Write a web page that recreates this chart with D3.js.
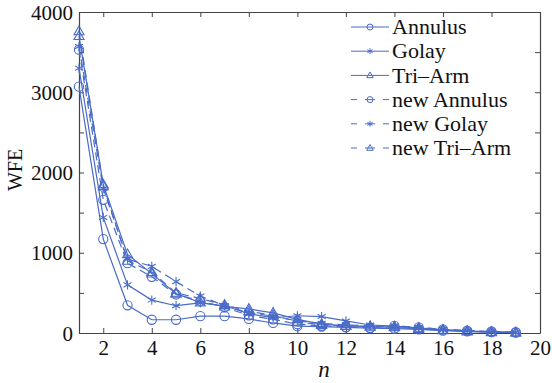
<!DOCTYPE html>
<html>
<head>
<meta charset="utf-8">
<script src="https://cdn.jsdelivr.net/npm/d3@7"></script>
<style>
  body { margin: 0; background: #fff; }
  svg text { font-family: "Liberation Serif", "Times New Roman", serif; fill: #111; }
</style>
</head>
<body>
<svg id="chart" width="552" height="383"></svg>
<script>
// n = 1..19
var nValues = d3.range(1, 20);
var annulus    = [3070, 1170, 345, 165, 165, 210, 210, 175, 125, 85, 80, 70, 60, 55, 45, 30, 20, 10, 5];
var golay      = [3300, 1440, 600, 410, 340, 375, 340, 240, 190, 215, 205, 150, 100, 85, 60, 40, 25, 15, 5];
var triArm     = [3700, 1850, 980, 740, 490, 380, 330, 300, 250, 170, 110, 90, 80, 70, 50, 35, 20, 10, 5];
var newAnnulus = [3530, 1660, 870, 700, 480, 400, 320, 220, 170, 110, 90, 75, 65, 90, 70, 45, 30, 20, 10];
var newGolay   = [3570, 1800, 920, 830, 640, 460, 340, 250, 210, 150, 120, 100, 90, 90, 70, 45, 30, 15, 5];
var newTriArm  = [3760, 1830, 900, 760, 500, 430, 350, 270, 220, 140, 100, 90, 80, 80, 65, 40, 25, 15, 5];
var xTicks = [2, 4, 6, 8, 10, 12, 14, 16, 18, 20];
var yTicks = [0, 1000, 2000, 3000, 4000];

var series = [
    {name: 'Annulus', values: annulus, marker: 'circle', dashed: false},
    {name: 'Golay', values: golay, marker: 'star', dashed: false},
    {name: 'Tri\u2013Arm', values: triArm, marker: 'triangle', dashed: false},
    {name: 'new Annulus', values: newAnnulus, marker: 'circle', dashed: true},
    {name: 'new Golay', values: newGolay, marker: 'star', dashed: true},
    {name: 'new Tri\u2013Arm', values: newTriArm, marker: 'triangle', dashed: true}
];

var blue = '#4a6bc8';
var frame = '#444';
var plotLeft = 79, plotRight = 540, plotTop = 12, plotBottom = 333;
var serif = '"Liberation Serif", "Times New Roman", serif';

var svg = d3.select('#chart');
var x = d3.scaleLinear().domain([1, 20]).range([plotLeft, plotRight]);
var y = d3.scaleLinear().domain([0, 4000]).range([plotBottom, plotTop]);

function markerPath(type, size) {
    if (type === 'circle') {
        return d3.symbol().type(d3.symbolCircle).size(size * size * Math.PI)();
    }
    if (type === 'triangle') {
        var s = size * 1.15;
        return 'M0,' + (-s) + 'L' + (s * 0.95) + ',' + (s * 0.65) + 'L' + (-s * 0.95) + ',' + (s * 0.65) + 'Z';
    }
    // star made of 3 crossing strokes
    var p = [], i;
    for (i = 0; i < 3; i++) {
        var a = Math.PI / 3 * i + Math.PI / 2;
        var dx = size * Math.cos(a), dy = size * Math.sin(a);
        p.push('M', dx, ',', dy, 'L', -dx, ',', -dy);
    }
    return p.join('');
}

// axes (box with inward ticks)
var gx = svg.append('g').attr('transform', 'translate(0,' + plotBottom + ')')
    .call(d3.axisBottom(x).tickValues(xTicks).tickSizeInner(-5).tickSizeOuter(0).tickPadding(7));
var gxTop = svg.append('g').attr('transform', 'translate(0,' + plotTop + ')')
    .call(d3.axisTop(x).tickValues(xTicks).tickSizeInner(-5).tickSizeOuter(0).tickFormat(''));
var gy = svg.append('g').attr('transform', 'translate(' + plotLeft + ',0)')
    .call(d3.axisLeft(y).tickValues(d3.range(0, 4001, 500)).tickSizeInner(-5).tickSizeOuter(0).tickPadding(6)
        .tickFormat(function (d) { return yTicks.indexOf(d) >= 0 ? d : ''; }));
var gyRight = svg.append('g').attr('transform', 'translate(' + plotRight + ',0)')
    .call(d3.axisRight(y).tickValues(d3.range(0, 4001, 500)).tickSizeInner(-5).tickSizeOuter(0).tickFormat(''));

[gx, gxTop, gy, gyRight].forEach(function (g) {
    g.attr('font-family', serif).attr('font-size', 21);
    g.select('.domain').attr('stroke', frame).attr('stroke-width', 1.2);
    g.selectAll('.tick line').attr('stroke', frame);
    g.selectAll('.tick text').attr('fill', '#111');
});
gy.selectAll('.tick text').attr('dy', '0.34em');

svg.append('text')
    .attr('transform', 'translate(22,170) rotate(-90)')
    .attr('text-anchor', 'middle')
    .attr('font-size', 20)
    .text('WFE');
svg.append('text')
    .attr('x', 324)
    .attr('y', 377)
    .attr('text-anchor', 'middle')
    .attr('font-size', 23)
    .attr('font-style', 'italic')
    .text('n');

var line = d3.line()
    .x(function (d, i) { return x(nValues[i]); })
    .y(function (d) { return y(d); });

var plot = svg.append('g');
series.forEach(function (s) {
    var g = plot.append('g');
    g.append('path')
        .attr('d', line(s.values))
        .attr('fill', 'none')
        .attr('stroke', blue)
        .attr('stroke-width', 1.2)
        .attr('stroke-dasharray', s.dashed ? '8,5' : null);
    g.selectAll('path.m').data(s.values).enter().append('path')
        .attr('class', 'm')
        .attr('transform', function (d, i) { return 'translate(' + x(nValues[i]) + ',' + y(d) + ')'; })
        .attr('d', markerPath(s.marker, 4.6))
        .attr('fill', 'none')
        .attr('stroke', blue)
        .attr('stroke-width', 1.1);
});

// legend
var legend = svg.append('g');
series.forEach(function (s, i) {
    var ly = 27 + i * 24.2;
    var g = legend.append('g').attr('transform', 'translate(0,' + ly + ')');
    g.append('line')
        .attr('x1', 351).attr('x2', 389).attr('y1', 0).attr('y2', 0)
        .attr('stroke', blue).attr('stroke-width', 1)
        .attr('stroke-dasharray', s.dashed ? '6,8,10,8,6' : null);
    g.append('path')
        .attr('transform', 'translate(370,0)')
        .attr('d', markerPath(s.marker, 3))
        .attr('fill', 'none').attr('stroke', blue).attr('stroke-width', 1);
    g.append('text')
        .attr('x', 392).attr('y', 0).attr('dy', '0.33em')
        .attr('font-size', 22)
        .text(s.name);
});
</script>
</body>
</html>
